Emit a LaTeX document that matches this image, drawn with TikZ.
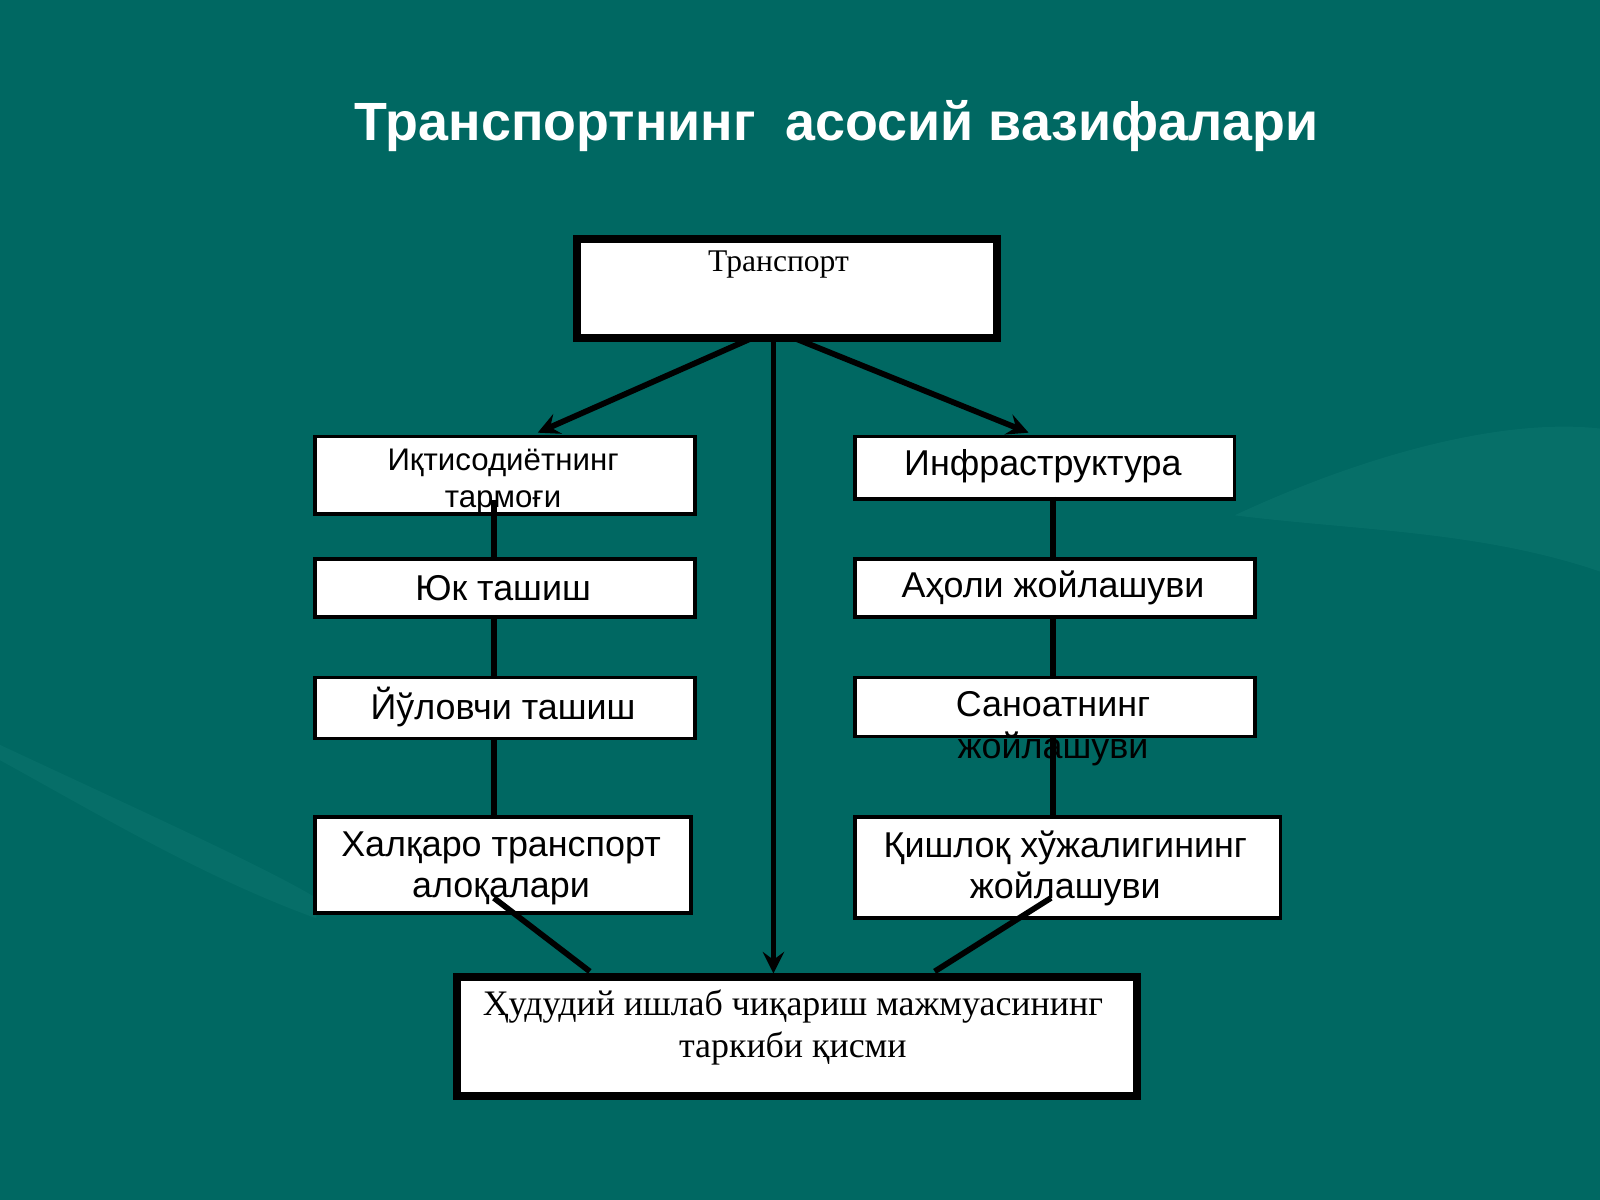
\documentclass[tikz,border=0pt]{standalone}
\usepackage{fontspec}
\setmainfont{Liberation Serif}
\newfontfamily\boxfont{Liberation Sans}
\usetikzlibrary{positioning}
\definecolor{bgteal}{RGB}{0,104,98}
\definecolor{bglight}{RGB}{20,125,118}
\begin{document}
\begin{tikzpicture}[x=0.01cm,y=-0.01cm,>=stealth,
  box/.style={draw=black,fill=white,line width=1pt,inner sep=0pt,anchor=north west},
  bigbox/.style={box,line width=2.2pt},
  sans/.style={font=\boxfont\fontsize{10}{11.5}\selectfont,align=center,text=black},
  serif/.style={font=\fontsize{10}{11.8}\selectfont,align=center,text=black},
  link/.style={line width=1.6pt,black}]
\fill[bgteal] (0,0) rectangle (1568,1176);
\useasboundingbox (0,0) rectangle (1568,1176);
\fill[bglight,opacity=0.35] (1210,505) .. controls (1350,440) and (1480,410) .. (1568,420)
  -- (1568,560) .. controls (1450,520) and (1330,520) .. (1210,505);
\fill[bglight,opacity=0.3] (0,730) .. controls (150,800) and (260,850) .. (310,880)
  -- (310,900) .. controls (200,860) and (100,800) .. (0,745);

\node[font=\boxfont\bfseries\fontsize{15}{17}\selectfont,white] (title) at (820,124) {Транспортнинг\ \ асосий вазифалари};

% boxes
\node[bigbox,minimum width=4.11cm,minimum height=0.97cm] (tr) at (562,230) {};
\node[box,minimum width=3.72cm,minimum height=0.76cm] (iq) at (307,426) {};
\node[box,minimum width=3.72cm,minimum height=0.57cm] (yuk) at (307,546) {};
\node[box,minimum width=3.72cm,minimum height=0.60cm] (yul) at (307,662) {};
\node[box,minimum width=3.68cm,minimum height=0.94cm] (hal) at (307,799) {};
\node[box,minimum width=3.72cm,minimum height=0.61cm] (inf) at (836,426) {};
\node[box,minimum width=3.92cm,minimum height=0.57cm] (aho) at (836,546) {};
\node[box,minimum width=3.92cm,minimum height=0.58cm] (san) at (836,662) {};
\node[box,minimum width=4.17cm,minimum height=0.99cm] (qish) at (836,799) {};
\node[bigbox,minimum width=6.66cm,minimum height=1.16cm] (hud) at (444,954) {};

% connectors
\coordinate (iqb) at (484,490);
\coordinate (halb) at (484,880);
\coordinate (infb) at (1032,487);
\coordinate (qisht) at (1032,800);
\coordinate (trb) at (758,328);
\draw[link] (iqb) -- (yuk.north -| iqb);
\draw[link] (yuk.south -| iqb) -- (yul.north -| iqb);
\draw[link] (yul.south -| iqb) -- (hal.north -| iqb);
\draw[link] (infb) -- (aho.north -| infb);
\draw[link] (aho.south -| infb) -- (san.north -| infb);
\draw[link] (san.south -| infb) -- (qisht);
\draw[link,->] (740,330) -- (527,424);
\draw[link,->] (775,330) -- (1008,424);
\draw[link,->] (trb) -- (hud.north -| trb);
\draw[link] (halb) -- (578,952);
\draw[link] (1030,880) -- (916,952);

% texts
\node[serif,font=\fontsize{8.8}{10}\selectfont] (trt) at (763,259) {Транспорт};
\node[sans,font=\boxfont\fontsize{8.7}{10.5}\selectfont] (iqt) at (493,472) {Иқтисодиётнинг\\тармоғи};
\node[sans] (yukt) at (493,576) {Юк ташиш};
\node[sans] (yult) at (493,693) {Йўловчи ташиш};
\node[sans] (halt) at (491,851) {Халқаро транспорт\\алоқалари};
\node[sans] (inft) at (1022,457) {Инфраструктура};
\node[sans] (ahot) at (1032,576) {Аҳоли жойлашуви};
\node[sans] (sant) at (1032,714) {Саноатнинг\\жойлашуви};
\node[sans] (qisht2) at (1044,851) {Қишлоқ хўжалигининг\\жойлашуви};
\node[serif] (hudt) at (777,1007) {Ҳудудий ишлаб чиқариш мажмуасининг\\таркиби қисми};
\end{tikzpicture}
\end{document}
